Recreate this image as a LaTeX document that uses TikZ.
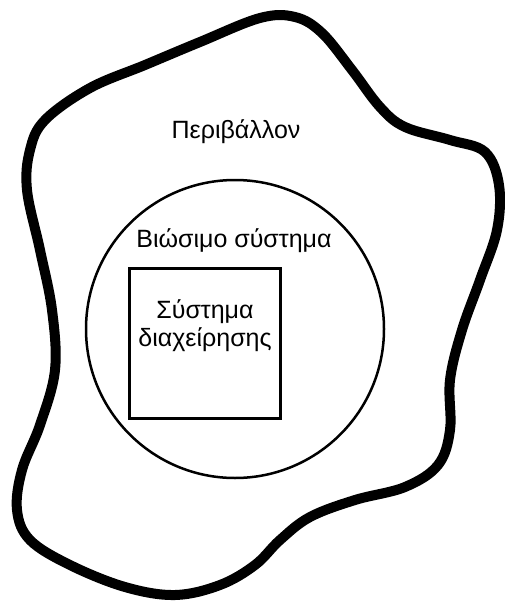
\documentclass[tikz,border=0pt]{standalone}
\usepackage{fontspec}
\setmainfont{Liberation Sans}
\usepackage{tikz}
\usetikzlibrary{calc,positioning}

\tikzset{
  greektext/.style={font=\fontsize{25}{28}\selectfont, inner sep=0pt},
  borderline/.style={line width=10pt, line join=round},
}

\begin{document}
\begin{tikzpicture}[x=1pt,y=-1pt]
      \useasboundingbox (0,0) rectangle (504,602);
      % Environment
      \draw[borderline] plot[smooth cycle, tension=0.6] coordinates {
        (45,120) (90,88) (145,65) (200,42) (260,18) (295,17) (322,33) (352,70)
        (380,107) (405,127) (450,140) (485,152) (499,185) (497,230) (480,280)
        (462,330) (450,380) (450,430) (438,465) (405,487) (355,500) (310,517)
        (280,540) (255,565) (220,585) (175,595) (125,587) (70,565) (30,540)
        (17,510) (22,470) (40,425) (55,370) (52,310) (40,250) (27,190) (30,150)};
      \node[greektext, anchor=base] (env) at (236,138) {Περιβάλλον};
      % Sustainable system
      \draw[line width=2.5pt] (235,329) circle[radius=149];
      \node[greektext, anchor=base] (sust) at (234,247) {Βιώσιμο σύστημα};
      % Management system
      \draw[line width=3pt] (129,268) rectangle (280,418);
      \node[greektext, anchor=base, align=center] (mgmt) at (205,346) {Σύστημα\\διαχείρησης};
    \end{tikzpicture}
\end{document}
